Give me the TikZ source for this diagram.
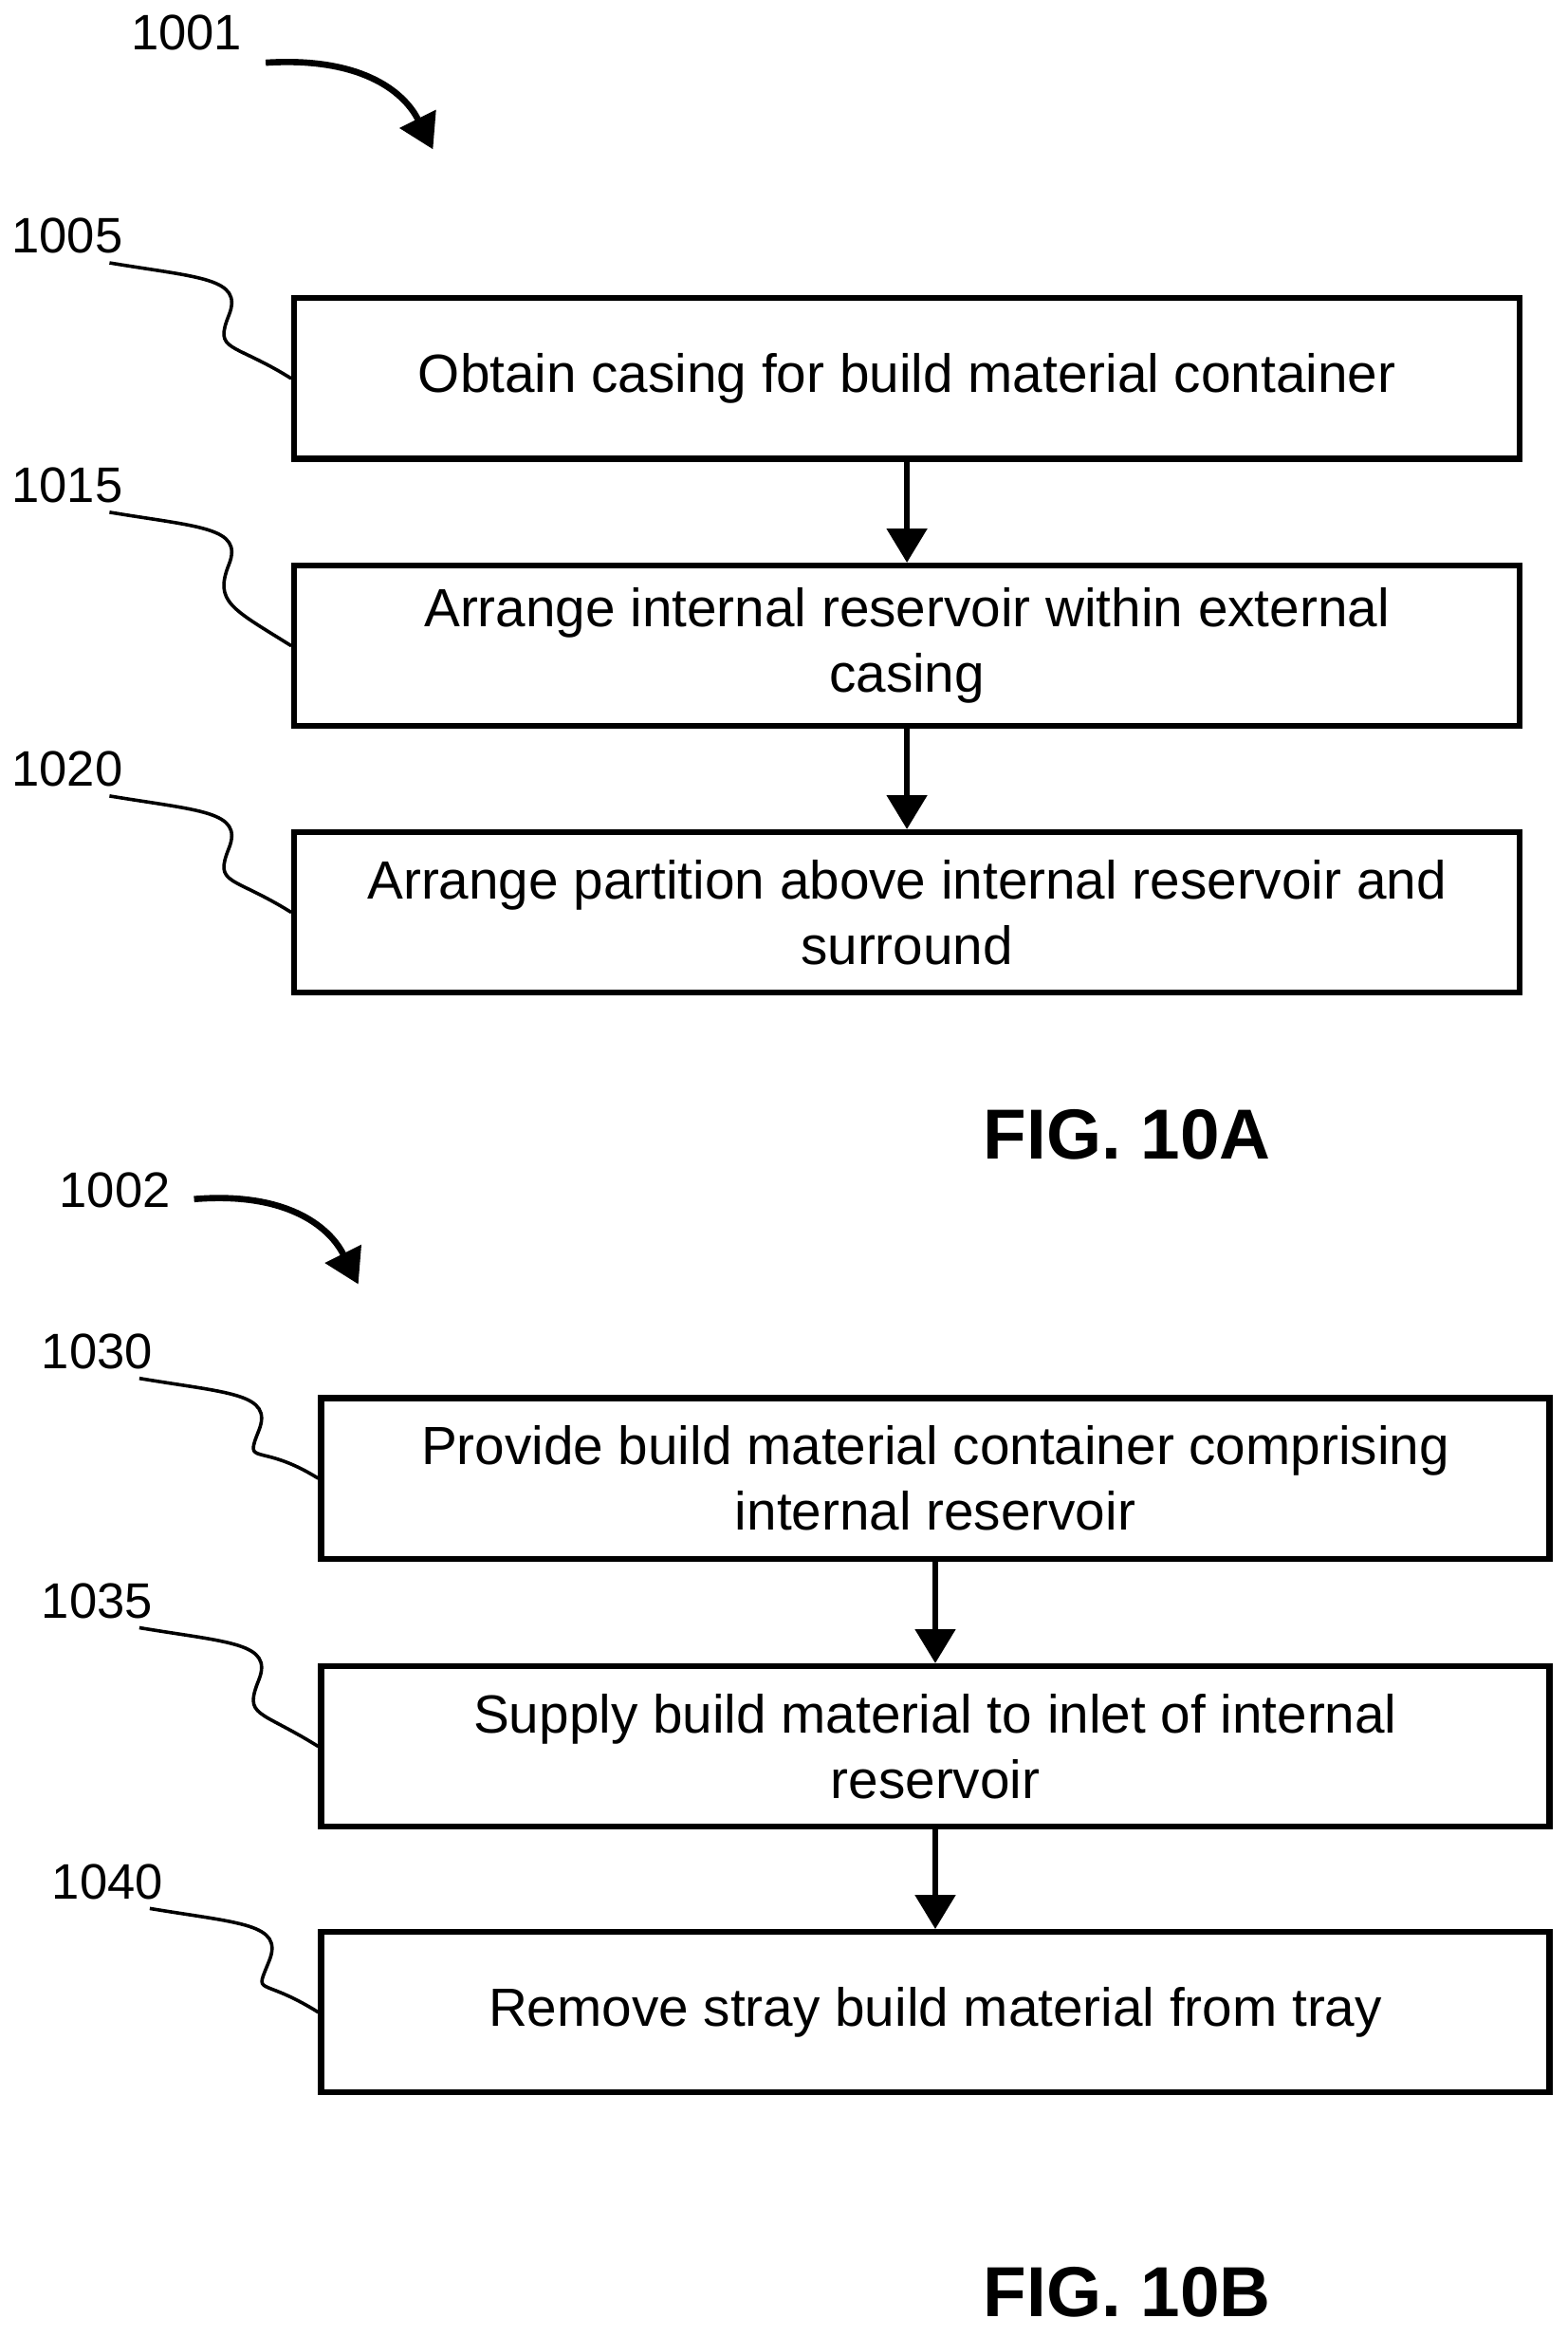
\documentclass[tikz,border=0pt]{standalone}
\usepackage{fontspec}
\setmainfont{Liberation Sans}
\usetikzlibrary{arrows.meta}
\begin{document}
\begin{tikzpicture}[x=0.02cm,y=-0.02cm,
  stepbox/.style={draw, line width=2.2pt, minimum height=2.15cm, align=center, font=\fontsize{20.5}{25}\selectfont, inner sep=0pt},
  flow/.style={line width=2.4pt, -{Triangle[length=13pt,width=15pt]}},
  ref/.style={font=\fontsize{19}{22}\selectfont},
  lead/.style={line width=1.3pt},
  fig/.style={font=\bfseries\fontsize{27}{30}\selectfont}]
  \useasboundingbox (0,0) rectangle (1050,1565);

  % FIG. 10A
  \node[ref] (n1001) at (125,22) {1001};
  \coordinate (p1001) at (290,100);
  \draw[flow] (178,42) .. controls (240,38) and (270,60) .. (p1001);

  \node[stepbox, minimum width=16.42cm] (s1005) at (607.5,253.5) {Obtain casing for build material container};
  \node[stepbox, minimum width=16.42cm] (s1015) at (607.5,432.5) {Arrange internal reservoir within external\\casing};
  \node[stepbox, minimum width=16.42cm] (s1020) at (607.5,611) {Arrange partition above internal reservoir and\\surround};
  \draw[flow] (s1005) -- (s1015);
  \draw[flow] (s1015) -- (s1020);

  \node[ref] (n1005) at (45,158) {1005};
  \node[ref] (n1015) at (45,325) {1015};
  \node[ref] (n1020) at (45,515) {1020};
  \foreach \n in {1005,1015,1020}
    \draw[lead] ([xshift=-0.3cm]n\n.south east) .. controls +(60,10) and +(10,-25) .. ++(80,35)
      .. controls +(-10,25) and +(-40,-25) .. (s\n.west);

  \node[fig] (f10a) at (755,760) {FIG. 10A};

  % FIG. 10B
  \node[ref] (n1002) at (77,797) {1002};
  \coordinate (p1002) at (240,860);
  \draw[flow] (130,803) .. controls (190,798) and (220,820) .. (p1002);

  \node[stepbox, minimum width=16.46cm] (s1030) at (626.5,990) {Provide build material container comprising\\internal reservoir};
  \node[stepbox, minimum width=16.46cm] (s1035) at (626.5,1169.5) {Supply build material to inlet of internal\\reservoir};
  \node[stepbox, minimum width=16.46cm] (s1040) at (626.5,1347.5) {Remove stray build material from tray};
  \draw[flow] (s1030) -- (s1035);
  \draw[flow] (s1035) -- (s1040);

  \node[ref] (n1030) at (65,905) {1030};
  \node[ref] (n1035) at (65,1072) {1035};
  \node[ref] (n1040) at (72,1260) {1040};
  \foreach \n in {1030,1035,1040}
    \draw[lead] ([xshift=-0.3cm]n\n.south east) .. controls +(60,10) and +(10,-25) .. ++(80,35)
      .. controls +(-10,25) and +(-40,-25) .. (s\n.west);

  \node[fig] (f10b) at (755,1535) {FIG. 10B};
\end{tikzpicture}
\end{document}
